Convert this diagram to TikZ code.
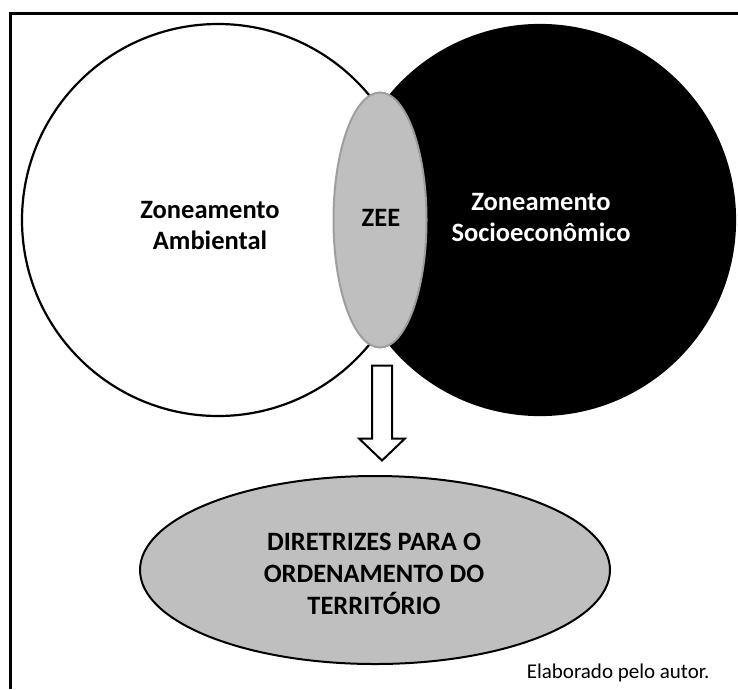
\documentclass[tikz,border=0pt]{standalone}
\usepackage{fontspec}
\setmainfont{Carlito}
\usetikzlibrary{shapes.geometric,positioning,calc}

\begin{document}
\begin{tikzpicture}[x=1pt, y=-1pt,
    zone/.style={circle, draw, line width=2.2pt, minimum size=392pt, inner sep=0pt},
    lens/.style={ellipse, draw=black!38, fill=black!25, line width=2pt, minimum width=93pt, minimum height=255pt, inner sep=0pt},
    goal/.style={ellipse, draw, fill=black!25, line width=2pt, minimum width=470pt, minimum height=188pt, inner sep=0pt},
    txt/.style={align=center, font=\fontsize{26.5}{31}\selectfont\bfseries},
    blockarrow/.style={draw, fill=white, line width=2pt, line join=miter}
]
    \useasboundingbox (0,0) rectangle (738,689);
    % frame (only top and left edges shown)
    \draw[line width=3pt] (10.7,689) -- (10.7,13.7) -- (738,13.7);

    % the two zonings
    \node[zone, fill=white] (amb) at (218,220) {};
    \node[zone, fill=black, minimum size=390pt] (soc) at (540,220) {};
    \node[lens] (zee) at (380,220) {};

    \node[txt] (ambtxt) at (210,225) {Zoneamento\\Ambiental};
    \node[txt, text=white] (soctxt) at (541,217) {Zoneamento\\Socioeconômico};
    \node[txt] (zeetxt) at (381,218) {ZEE};

    % result
    \node[goal] (dir) at (375,570) {};
    \node[txt, font=\fontsize{26.5}{32}\selectfont\bfseries] (dirtxt) at (374,574) {DIRETRIZES PARA O\\ORDENAMENTO DO\\TERRITÓRIO};

    % block arrow
    \coordinate (atop) at ($(zee.south)+(2,17)$);
    \draw[blockarrow] (atop) ++(-10,0) -- ++(20,0) -- ++(0,73) -- ++(13,0)
        -- ($(atop)+(0,95)$) -- ++(-23,-22) -- ++(13,0) -- cycle;

    \node[anchor=base east, font=\fontsize{21}{24}\selectfont] (src) at (713,678) {Elaborado pelo autor.};
\end{tikzpicture}
\end{document}
